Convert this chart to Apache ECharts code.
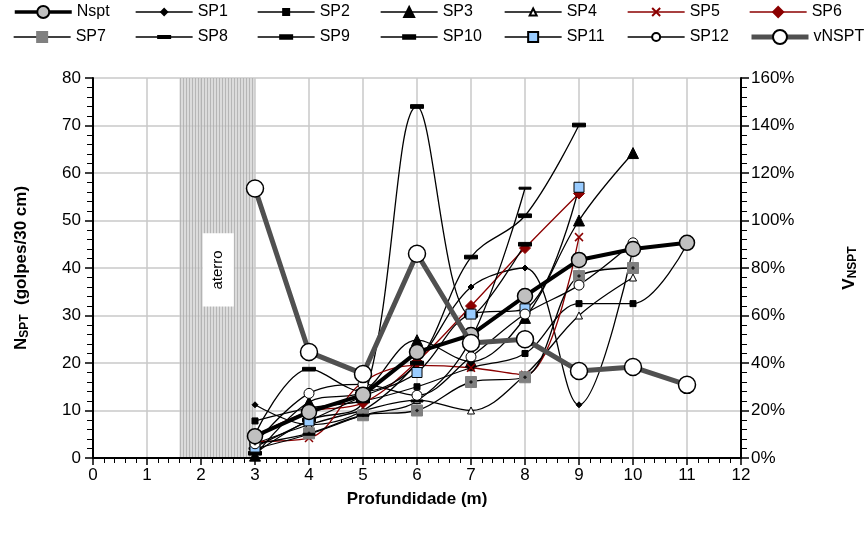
<!DOCTYPE html>
<html><head><meta charset="utf-8">
<script src="https://cdn.jsdelivr.net/npm/echarts@6/dist/echarts.min.js"></script>
<style>html,body{margin:0;padding:0;background:#fff}#c{width:868px;height:542px}</style>
</head><body><div id="c"></div>
<script>
// ---- data (depth in m) ----
const depths = [3, 4, 5, 6, 7, 8, 9, 10, 11];
const nspt  = [4.6, 9.7, 13.3, 22.3, 25.9, 34.1, 41.7, 44.0, 45.3];
const vnspt = [113.5, 44.6, 35.4, 86, 48.4, 50, 36.6, 38.3, 30.8];
const sp1  = [11.2, 7, 10, 20, 36, 40, 11.2, 44, null];
const sp2  = [7.8, 10.5, 12, 15, 19, 22, 32.5, 32.5, 45];
const sp3  = [0.5, 11.8, 14, 24.8, 20.3, 29.5, 50, 64.2, null];
const sp4  = [3, 7, 10, 12.2, 10, 17.5, 30, 38, null];
const sp5  = [3.5, 4.2, 16, 19.5, 19, 17.5, 46.5, null, null];
const sp6  = [4.6, 9.7, 11.6, 20.3, 32, 44.2, 55.7, null, null];
const sp7  = [3, 5.2, 9, 10, 16, 17, 38.3, 40, null];
const sp8  = [2, 5, 9, 12, 25, 56.8, null, null, null];
const sp9  = [1, 8, 12, 74, 30, 45, null, null, null];
const sp10 = [5, 18.7, 14, 20, 42.3, 51, 70.1, null, null];
const sp11 = [2.3, 7.8, 13, 18, 30.3, 31.4, 57, null, null];
const sp12 = [3, 13.6, 15.5, 13.2, 21.3, 30.3, 36.4, 45.3, null];
const xTicks = [0, 12, 1];
const yTicks = [0, 80, 10];
const y2Ticks = [0, 160, 20];
const aterro = [1.6, 3.0];

const FONT = 'Liberation Sans';
function pairs(arr){ const out=[]; arr.forEach((v,i)=>{ if(v!==null) out.push([depths[i], v]); }); return out; }

// striped pattern for the fill band
const pc = document.createElement('canvas'); pc.width = 3; pc.height = 4;
const g = pc.getContext('2d');
g.fillStyle = 'rgba(205,205,205,0.7)'; g.fillRect(0,0,3,4);
g.fillStyle = 'rgba(165,165,165,0.7)'; g.fillRect(0,0,1,4);

// dash symbols padded to a square box (so the legend shows a dash too)
const DASH_THIN  = 'path://M0,0M12,12M0,5h12v2h-12z';
const DASH_THICK = 'path://M0,0M12,12M0,4.3h12v3.4h-12z';
const CROSS = 'path://M0,0L10,10M10,0L0,10';

function sp(name, arr, symbol, size, opts){
  opts = opts || {};
  return {
    name, type:'line', data: pairs(arr), smooth: 0.35,
    symbol, symbolSize: size, showSymbol: true,
    lineStyle:{color: opts.line || '#000', width: 1.3},
    itemStyle:{color: opts.fill || '#000', borderColor: opts.border || '#000', borderWidth: opts.bw || 1, opacity:1},
    emphasis:{disabled:true}, z: 3
  };
}
const red = '#8b0000';
const series = [
  sp('SP1', sp1, 'diamond', 6),
  sp('SP2', sp2, 'rect', 6),
  sp('SP3', sp3, 'triangle', 11),
  sp('SP4', sp4, 'triangle', 7, {fill:'#fff'}),
  sp('SP5', sp5, CROSS, 8, {line:red, fill:'none', border:red, bw:1.5}),
  sp('SP6', sp6, 'diamond', 11, {line:red, fill:red, border:red}),
  sp('SP7', sp7, 'rect', 11, {fill:'#808080', border:'#808080'}),
  sp('SP8', sp8, DASH_THIN, 12),
  sp('SP9', sp9, DASH_THICK, 13),
  sp('SP10', sp10, DASH_THICK, 13),
  sp('SP11', sp11, 'rect', 10, {fill:'#99ccff', border:'#000'}),
  sp('SP12', sp12, 'circle', 10, {fill:'#fff'}),
  { // small black dot inside SP7 markers
    name:'SP7dot', type:'scatter', data: pairs(sp7), symbol:'diamond', symbolSize:4,
    itemStyle:{color:'#000'}, emphasis:{disabled:true}, z: 4, silent:true
  },
  {
    name:'Nspt', type:'line', data: pairs(nspt), symbol:'circle', symbolSize: 15,
    lineStyle:{color:'#000', width:4}, itemStyle:{color:'#c0c0c0', borderColor:'#000', borderWidth:1.5},
    emphasis:{disabled:true}, z: 5,
    markArea:{silent:true, itemStyle:{color:{image: pc, repeat:'repeat'}}, z:0,
      data:[[{xAxis: aterro[0], yAxis: yTicks[0]}, {xAxis: aterro[1], yAxis: yTicks[1]}]]}
  },
  {
    name:'vNSPT', type:'line', yAxisIndex:1, data: pairs(vnspt), symbol:'circle', symbolSize: 17,
    lineStyle:{color:'#505050', width:5}, itemStyle:{color:'#fff', borderColor:'#000', borderWidth:1.5},
    emphasis:{disabled:true}, z: 6
  }
];

const row1 = ['Nspt','SP1','SP2','SP3','SP4','SP5','SP6'];
const row2 = ['SP7','SP8','SP9','SP10','SP11','SP12','vNSPT'];
const colX = [13, 135, 257, 380, 504, 627, 749];
const rowTop = [3, 28];
// legend marker size per item (legend symbol = 0.8 * itemHeight)
const legMarker = {Nspt:12, SP1:6, SP2:6, SP3:10, SP4:7, SP5:8, SP6:10, SP7:10, SP8:12, SP9:12, SP10:12, SP11:10, SP12:8, vNSPT:14};
const legLine = {Nspt:{width:3.5,color:'#000'}, vNSPT:{width:5,color:'#505050'}};
const legends = [];
[row1, row2].forEach((row, r) => row.forEach((nm, i) => {
  const h = legMarker[nm] / 0.8;
  legends.push({
    data:[nm], left: colX[i], top: rowTop[r], itemWidth: 57, itemHeight: h, padding: 0, itemGap: 0,
    selectedMode:false, textStyle:{fontFamily:FONT, fontSize:16, color:'#000', lineHeight:18},
    lineStyle: legLine[nm] || {width: 1.3}
  });
}));

const axisFont = {fontFamily:FONT, fontSize:17, color:'#000'};
const chart = echarts.init(document.getElementById('c'), null, {renderer:'canvas'});
chart.setOption({
  animation:false,
  backgroundColor:'#fff',
  legend: legends,
  grid:{left:93, right:127, top:78, bottom:84, containLabel:false},
  xAxis:{type:'value', min:xTicks[0], max:xTicks[1], interval:xTicks[2],
    name:'Profundidade (m)', nameLocation:'middle', nameGap:33,
    nameTextStyle:{fontFamily:FONT, fontSize:17, fontWeight:'bold', color:'#000'},
    axisLine:{lineStyle:{color:'#000', width:2}},
    axisTick:{show:true, length:7, lineStyle:{color:'#000', width:1.5}},
    minorTick:{show:true, splitNumber:5, length:5, lineStyle:{color:'#000', width:1}},
    axisLabel:Object.assign({margin:9}, axisFont),
    splitLine:{show:true, lineStyle:{color:'#c8c8c8', width:1.5}}},
  yAxis:[
    {type:'value', min:yTicks[0], max:yTicks[1], interval:yTicks[2],
      name:'{a|N}{s|SPT}{a|  (golpes/30 cm)}', nameLocation:'middle', nameGap:62, nameRotate:90,
      nameTextStyle:{rich:{a:{fontFamily:FONT, fontSize:17, fontWeight:'bold', color:'#000'},
                           s:{fontFamily:FONT, fontSize:12, fontWeight:'bold', color:'#000', padding:[8,0,0,0]}}},
      axisLine:{show:true, lineStyle:{color:'#000', width:2}},
      axisTick:{show:true, length:8, lineStyle:{color:'#000', width:1.5}},
      minorTick:{show:true, splitNumber:5, length:6, lineStyle:{color:'#000', width:1}},
      axisLabel:Object.assign({margin:12}, axisFont),
      splitLine:{show:true, lineStyle:{color:'#c8c8c8', width:1.5}}},
    {type:'value', position:'right', min:y2Ticks[0], max:y2Ticks[1], interval:y2Ticks[2],
      name:'{a|V}{s|NSPT}', nameLocation:'middle', nameGap:98, nameRotate:90,
      nameTextStyle:{rich:{a:{fontFamily:FONT, fontSize:17, fontWeight:'bold', color:'#000'},
                           s:{fontFamily:FONT, fontSize:12, fontWeight:'bold', color:'#000', padding:[8,0,0,0]}}},
      axisLine:{show:true, lineStyle:{color:'#000', width:2}},
      axisTick:{show:true, length:8, lineStyle:{color:'#000', width:1.5}},
      minorTick:{show:true, splitNumber:5, length:6, lineStyle:{color:'#000', width:1}},
      axisLabel:Object.assign({margin:10, formatter:'{value}%'}, axisFont),
      splitLine:{show:false}}
  ],
  series
});
// "aterro" annotation box inside the fill band
const p = chart.convertToPixel({xAxisIndex:0, yAxisIndex:0}, [2.32, 39.6]);
chart.setOption({graphic:[{type:'text', x:p[0], y:p[1], rotation:Math.PI/2, z:10,
  style:{text:'aterro', fill:'#000', font:'15px "Liberation Sans"', align:'center', verticalAlign:'middle',
         backgroundColor:'#fff', padding:[8,17,8,17]}}]});
</script></body></html>
